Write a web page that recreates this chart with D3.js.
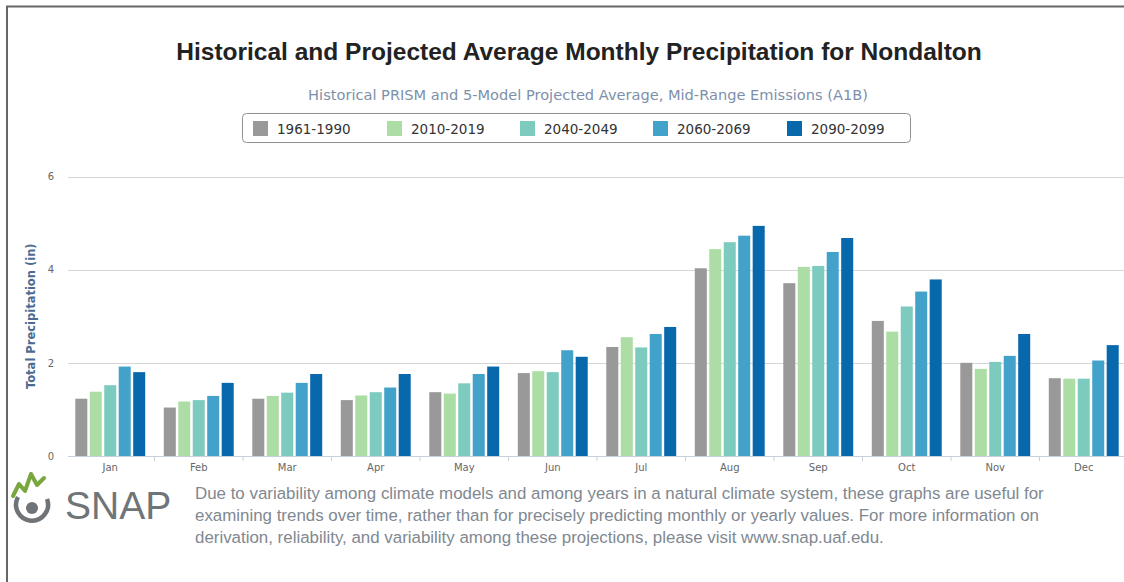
<!DOCTYPE html>
<html>
<head>
<meta charset="utf-8">
<script src="https://cdn.jsdelivr.net/npm/d3@7"></script>
<style>
  body { margin: 0; background: #fff; overflow: hidden; }
  svg { display: block; }
</style>
</head>
<body>
<script>
// chart data
const months = ['Jan', 'Feb', 'Mar', 'Apr', 'May', 'Jun', 'Jul', 'Aug', 'Sep', 'Oct', 'Nov', 'Dec'];
const periods = ['1961-1990', '2010-2019', '2040-2049', '2060-2069', '2090-2099'];
const p1961 = [1.23, 1.04, 1.23, 1.20, 1.37, 1.78, 2.34, 4.03, 3.71, 2.90, 2.00, 1.67];
const p2010 = [1.38, 1.17, 1.29, 1.30, 1.34, 1.82, 2.55, 4.44, 4.06, 2.67, 1.87, 1.66];
const p2040 = [1.52, 1.20, 1.36, 1.37, 1.56, 1.80, 2.33, 4.59, 4.08, 3.21, 2.02, 1.66];
const p2060 = [1.92, 1.29, 1.57, 1.47, 1.76, 2.27, 2.62, 4.73, 4.38, 3.53, 2.15, 2.05];
const p2090 = [1.80, 1.57, 1.76, 1.76, 1.92, 2.13, 2.77, 4.94, 4.68, 3.79, 2.62, 2.38];
const yTicks = [0, 2, 4, 6];
const colors = ['#999999', '#abdda4', '#7dcbbf', '#43a2ca', '#0868ac'];

const series = [p1961, p2010, p2040, p2060, p2090];

let width = 1124, height = 582;
let padLeft = 68, padTop = 176.5, padBottom = 456;

let svg = d3.select('body')
    .append('svg')
    .attr('width', width)
    .attr('height', height)
    .style('font-family', '"Liberation Sans", Arial, sans-serif');

// outer frame (only top and left edges fall inside the picture)
svg.append('rect')
    .attr('x', 7).attr('y', 6.5)
    .attr('width', width).attr('height', height)
    .attr('fill', 'none')
    .attr('stroke', '#666')
    .attr('stroke-width', 2);

svg.append('text')
    .attr('x', 579).attr('y', 60)
    .attr('text-anchor', 'middle')
    .attr('font-size', 24.5)
    .attr('font-weight', 'bold')
    .attr('fill', '#222')
    .text('Historical and Projected Average Monthly Precipitation for Nondalton');

svg.append('text')
    .attr('x', 588).attr('y', 100)
    .attr('text-anchor', 'middle')
    .attr('font-size', 14.6)
    .attr('fill', '#7d90aa')
    .style('font-family', '"DejaVu Sans", sans-serif')
    .text('Historical PRISM and 5-Model Projected Average, Mid-Range Emissions (A1B)');

// scales
let xScale = d3.scaleBand()
    .domain(months)
    .range([66, 1128])
    .paddingInner(0.21)
    .paddingOuter(0.105);

let xInner = d3.scaleBand()
    .domain(d3.range(periods.length))
    .range([0, xScale.bandwidth()])
    .paddingInner(0.17);

let yScale = d3.scaleLinear()
    .domain([0, 6])
    .range([padBottom, padTop]);

// gridlines
svg.append('g')
    .selectAll('line')
    .data(yTicks)
    .enter()
    .append('line')
    .attr('x1', padLeft).attr('x2', width)
    .attr('y1', d => Math.round(yScale(d)) + 0.5)
    .attr('y2', d => Math.round(yScale(d)) + 0.5)
    .attr('stroke', '#d6d6d6');

// y tick labels
let yAxis = d3.axisLeft(yScale).tickValues(yTicks).tickFormat(d3.format('d')).tickSize(0).tickPadding(14);
let gy = svg.append('g')
    .attr('transform', 'translate(' + padLeft + ',0)')
    .call(yAxis);
gy.select('.domain').remove();
gy.selectAll('text')
    .attr('fill', '#666')
    .attr('font-size', 10)
    .style('font-family', '"DejaVu Sans", sans-serif');

svg.append('text')
    .attr('transform', 'translate(35,' + ((padTop + padBottom) / 2) + ') rotate(-90)')
    .attr('text-anchor', 'middle')
    .attr('font-size', 11.5)
    .attr('font-weight', 'bold')
    .attr('fill', '#4d6a91')
    .style('font-family', '"DejaVu Sans", sans-serif')
    .text('Total Precipitation (in)');

// bars
let groups = svg.append('g')
    .selectAll('g')
    .data(months)
    .enter()
    .append('g')
    .attr('transform', d => 'translate(' + xScale(d) + ',0)');

groups.selectAll('rect')
    .data((m, i) => series.map((s, k) => ({ k: k, v: s[i] })))
    .enter()
    .append('rect')
    .attr('x', d => xInner(d.k))
    .attr('width', xInner.bandwidth())
    .attr('y', d => yScale(d.v))
    .attr('height', d => yScale(0) - yScale(d.v))
    .attr('fill', d => colors[d.k]);

// x axis
let xAxis = d3.axisBottom(xScale).tickSize(0).tickPadding(8);
let gx = svg.append('g')
    .attr('transform', 'translate(0,' + padBottom + ')')
    .call(xAxis);
gx.select('.domain').remove();
gx.append('line')
    .attr('x1', padLeft).attr('x2', width)
    .attr('y1', 0.5).attr('y2', 0.5)
    .attr('stroke', '#c8d0dc');
gx.selectAll('text')
    .attr('fill', '#666')
    .attr('font-size', 10)
    .style('font-family', '"DejaVu Sans", sans-serif');
gx.selectAll('.sep')
    .data(months.slice(1))
    .enter()
    .append('line')
    .attr('class', 'sep')
    .attr('x1', d => xScale(d) - xScale.step() * xScale.paddingInner() / 2)
    .attr('x2', d => xScale(d) - xScale.step() * xScale.paddingInner() / 2)
    .attr('y1', 0).attr('y2', 5)
    .attr('stroke', '#c8d0dc');

// legend
let legend = svg.append('g');
legend.append('rect')
    .attr('x', 242.5).attr('y', 113.5)
    .attr('width', 668).attr('height', 29)
    .attr('rx', 4)
    .attr('fill', '#fff')
    .attr('stroke', '#909090');
let legendX = [253, 387, 520, 653, 787];
let items = legend.selectAll('.item')
    .data(periods)
    .enter()
    .append('g')
    .attr('class', 'item')
    .attr('transform', (d, i) => 'translate(' + legendX[i] + ',121)');
items.append('rect')
    .attr('width', 15).attr('height', 15)
    .attr('fill', (d, i) => colors[i]);
items.append('text')
    .attr('x', 24).attr('y', 12.5)
    .attr('font-size', 13.5)
    .attr('fill', '#333')
    .style('font-family', '"DejaVu Sans", sans-serif')
    .text(d => d);

// SNAP logo
let logo = svg.append('g');
logo.append('path')
    .attr('d', 'M13,496 L19,484 L25,491 L31,474 L37,485 L44,478')
    .attr('fill', 'none')
    .attr('stroke', '#7aa640')
    .attr('stroke-width', 4)
    .attr('stroke-linejoin', 'round')
    .attr('stroke-linecap', 'round');
logo.append('path')
    .attr('d', 'M18,497 A16,16 0 1 0 47,499')
    .attr('fill', 'none')
    .attr('stroke', '#6f7478')
    .attr('stroke-width', 4.5);
logo.append('circle')
    .attr('cx', 32).attr('cy', 508).attr('r', 6)
    .attr('fill', '#6f7478');
svg.append('text')
    .attr('x', 65).attr('y', 519)
    .attr('font-size', 39)
    .attr('fill', '#6f7478')
    .text('SNAP');

let note = [
    'Due to variability among climate models and among years in a natural climate system, these graphs are useful for',
    'examining trends over time, rather than for precisely predicting monthly or yearly values. For more information on',
    'derivation, reliability, and variability among these projections, please visit www.snap.uaf.edu.'
];
svg.append('g')
    .selectAll('text')
    .data(note)
    .enter()
    .append('text')
    .attr('x', 195)
    .attr('y', (d, i) => 499 + i * 22)
    .attr('font-size', 16.9)
    .attr('fill', '#7f8891')
    .text(d => d);
</script>
</body>
</html>
